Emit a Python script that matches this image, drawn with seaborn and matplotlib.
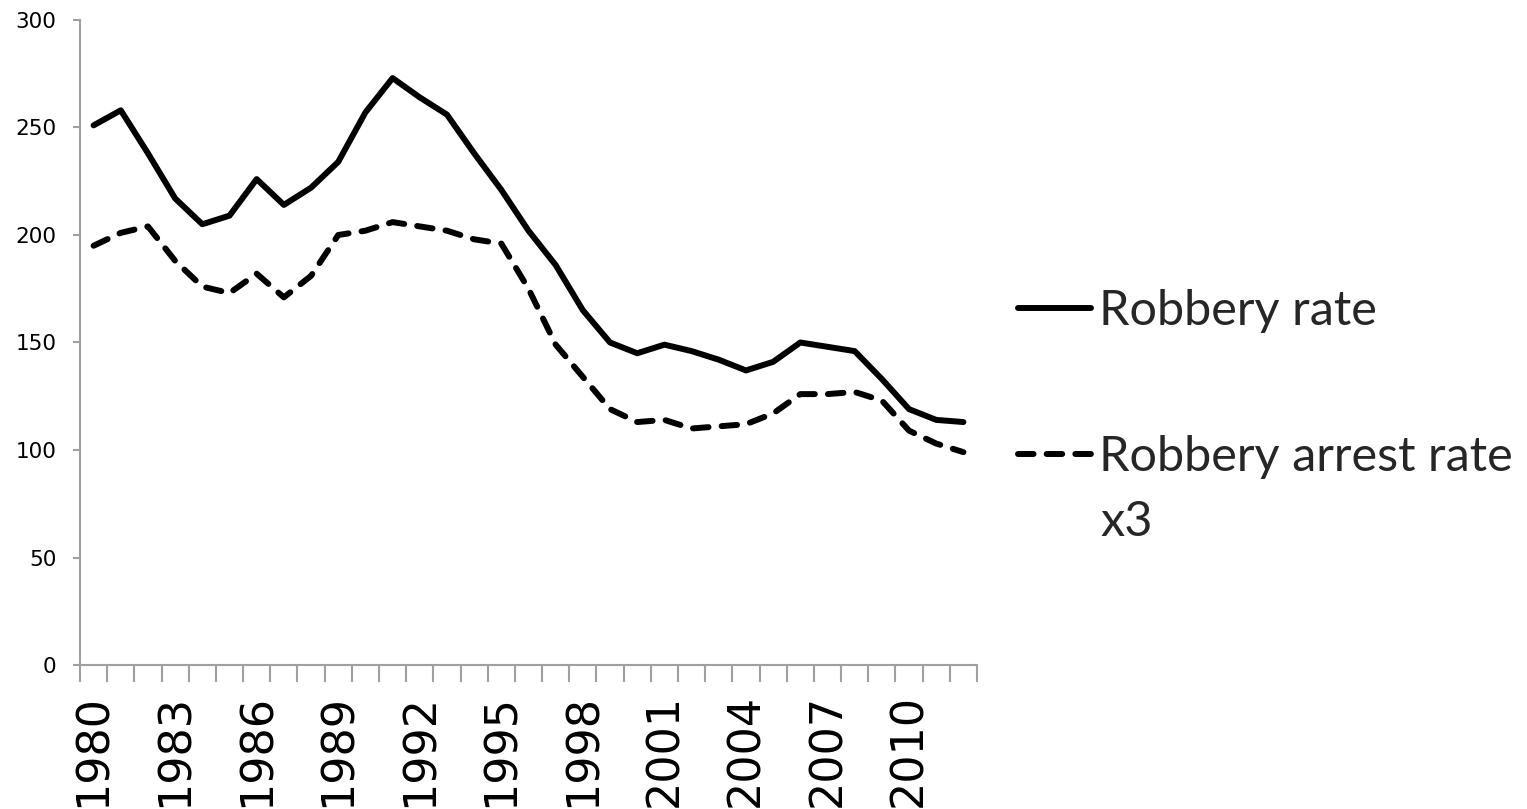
import matplotlib
matplotlib.use("Agg")
import matplotlib.pyplot as plt
import seaborn as sns
import numpy as np
import pandas as pd

years = list(range(1980, 2013))
robbery_rate = [251, 258, 238, 217, 205, 209, 226, 214, 222, 234, 257, 273, 264, 256,
                238, 221, 202, 186, 165, 150, 145, 149, 146, 142, 137, 141, 150, 148,
                146, 133, 119, 114, 113]
arrest_rate_x3 = [195, 201, 204, 188, 176, 173, 182, 171, 181, 200, 202, 206, 204, 202,
                  198, 196, 175, 149, 134, 119, 113, 114, 110, 111, 112, 117, 126, 126,
                  127, 123, 109, 103, 99]
label_solid = "Robbery rate"
label_dash = "Robbery arrest rate"
label_dash_wrap = "x3"
yticks = [0, 50, 100, 150, 200, 250, 300]

df = pd.DataFrame({"year": years, "rob": robbery_rate, "arr": arrest_rate_x3})

sns.set_theme(style="white")
plt.rcParams['font.family'] = ['DejaVu Sans']

fig = plt.figure(figsize=(15.27, 8.09), dpi=100)
ax = fig.add_axes([80/1527, 1-665/809, (977-80)/1527, (665-20)/809])

lw = 4.3
sns.lineplot(data=df, x="year", y="rob", ax=ax, color="black", linewidth=lw,
             label=label_solid, solid_capstyle="round", solid_joinstyle="round")
sns.lineplot(data=df, x="year", y="arr", ax=ax, color="black", linewidth=lw,
             label=label_dash)
dl = ax.lines[-1]
dl.set_dashes((2.6, 2.2))
dl.set_dash_capstyle("round")
dl.set_dash_joinstyle("round")

gray = "#A0A0A0"
ax.set_xlim(years[0]-0.5, years[-1]+0.5)
ax.set_ylim(0, 300)
for s in ["top", "right"]:
    ax.spines[s].set_visible(False)
for s in ["left", "bottom"]:
    ax.spines[s].set_color(gray)
    ax.spines[s].set_linewidth(1.5)

ax.set_yticks(yticks)
ax.set_yticklabels([str(v) for v in yticks], fontsize=15.5, color="black")
ax.tick_params(axis="y", which="major", direction="out", length=5, width=1.5,
               color=gray, left=True, pad=12)

bounds = np.arange(years[0]-0.5, years[-1]+1.0, 1.0)
ax.set_xticks(bounds)
ax.set_xticklabels([])
ax.tick_params(axis="x", which="major", direction="out", length=12.5, width=1.5,
               color=gray, bottom=True)
lab_years = years[::3]
ax.set_xticks(lab_years, minor=True)
ax.set_xticklabels([str(y) for y in lab_years], minor=True, rotation=90,
                   fontsize=32, color="black")
ax.tick_params(axis="x", which="minor", length=0, pad=21)
ax.set_xlabel("")
ax.set_ylabel("")
ax.grid(False)

leg_fs = 35
leg = ax.legend(loc="center left", bbox_to_anchor=(1018/1527, 1-384/809),
                bbox_transform=fig.transFigure, frameon=False, borderpad=0,
                borderaxespad=0, handlelength=1.5, handletextpad=0.17,
                labelspacing=2.1, prop={"family": ["Lato", "DejaVu Sans"], "size": leg_fs})
for h in leg.get_lines():
    h.set_linewidth(lw)
fig.text(1100/1527, 1-522/809, label_dash_wrap, fontsize=leg_fs,
         family=["Lato", "DejaVu Sans"], va="center", ha="left")

fig.savefig("out.png", dpi=100)
